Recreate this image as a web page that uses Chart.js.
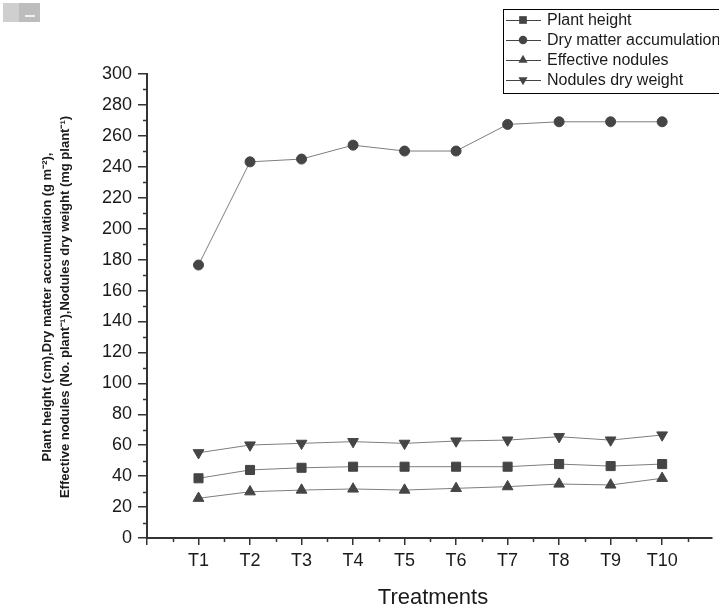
<!DOCTYPE html>
<html>
<head>
<meta charset="utf-8">
<script src="https://cdn.jsdelivr.net/npm/chart.js@4/dist/chart.umd.min.js"></script>
<style>
  body { margin: 0; background: #fff; }
  #wrap { position: relative; width: 719px; height: 612px; }
  #icon { position: absolute; left: 3px; top: 3px; width: 37px; height: 19px; background: #cfcfcf; }
  #icon span { position: absolute; left: 16px; top: 0; width: 21px; height: 19px; background: #bdbdbd; }
  #icon i { position: absolute; left: 22px; top: 12px; width: 10px; height: 2px; background: #f2f2f2; }
</style>
</head>
<body>
<div id="wrap">
  <canvas id="chart" width="719" height="612"></canvas>
  <div id="icon"><span></span><i></i></div>
</div>
<script>
// Data
const treatments = ['T1', 'T2', 'T3', 'T4', 'T5', 'T6', 'T7', 'T8', 'T9', 'T10'];
const plantHeight = [38.6, 44.0, 45.4, 46.1, 46.1, 46.1, 46.1, 47.8, 46.5, 47.8];
const dryMatter = [176.5, 243.2, 245.0, 254.0, 250.2, 250.2, 267.4, 269.1, 269.1, 269.1];
const effectiveNodules = [25.7, 29.9, 31.0, 31.7, 31.0, 32.1, 33.2, 34.9, 34.3, 38.6];
const nodulesDryWeight = [55.1, 60.1, 61.2, 62.3, 61.2, 62.7, 63.3, 65.5, 63.3, 66.6];
const yTicks = [0, 20, 40, 60, 80, 100, 120, 140, 160, 180, 200, 220, 240, 260, 280, 300];

const seriesNames = ['Plant height', 'Dry matter accumulation', 'Effective nodules', 'Nodules dry weight'];
const markerStyles = ['rect', 'circle', 'triangle', 'triangle'];
const markerRotations = [0, 0, 0, 180];
const markerRadius = [6.4, 5, 6.2, 6.2];

const axisColor = '#333333';
const markColor = '#454545';
const lineColor = '#7d7d7d';
const fontFamily = '"Liberation Sans", Arial, sans-serif';

function toPoints(values) {
    return values.map((v, i) => ({ x: i + 1, y: v }));
}

function makeDataset(name, values, idx) {
    return {
        label: name,
        data: toPoints(values),
        borderColor: lineColor,
        borderWidth: 1,
        backgroundColor: markColor,
        pointBackgroundColor: markColor,
        pointBorderColor: markColor,
        pointBorderWidth: 1,
        pointStyle: markerStyles[idx],
        rotation: markerRotations[idx],
        pointRadius: markerRadius[idx],
        pointHoverRadius: markerRadius[idx],
        tension: 0,
        fill: false
    };
}

// Small marker painter used by the legend
function drawMarker(ctx, style, rot, x, y, r) {
    ctx.beginPath();
    if (style === 'rect') {
        const s = Math.SQRT1_2 * r;
        ctx.rect(x - s, y - s, 2 * s, 2 * s);
    } else if (style === 'circle') {
        ctx.arc(x, y, r, 0, Math.PI * 2);
    } else {
        let a = rot * Math.PI / 180;
        ctx.moveTo(x + Math.sin(a) * r, y - Math.cos(a) * r);
        a += 2 * Math.PI / 3;
        ctx.lineTo(x + Math.sin(a) * r, y - Math.cos(a) * r);
        a += 2 * Math.PI / 3;
        ctx.lineTo(x + Math.sin(a) * r, y - Math.cos(a) * r);
        ctx.closePath();
    }
    ctx.fill();
}

// Minor ticks, axis titles and the boxed legend
const decorations = {
    id: 'decorations',
    afterDraw(chart) {
        const ctx = chart.ctx;
        const xs = chart.scales.x;
        const ys = chart.scales.y;
        const area = chart.chartArea;
        ctx.save();

        // minor ticks
        ctx.strokeStyle = axisColor;
        ctx.lineWidth = 1.5;
        ctx.beginPath();
        for (let v = 10; v < 300; v += 20) {
            const py = Math.round(ys.getPixelForValue(v)) + 0.5;
            ctx.moveTo(area.left - 4, py);
            ctx.lineTo(area.left, py);
        }
        for (let v = 0.5; v < xs.max; v += 1) {
            const px = Math.round(xs.getPixelForValue(v)) + 0.5;
            ctx.moveTo(px, area.bottom);
            ctx.lineTo(px, area.bottom + 4);
        }
        ctx.stroke();

        // x title
        ctx.fillStyle = '#1a1a1a';
        ctx.font = '22px ' + fontFamily;
        ctx.textAlign = 'center';
        ctx.textBaseline = 'middle';
        ctx.fillText('Treatments', 433, 598);

        // y title, two rotated lines
        ctx.save();
        ctx.translate(47, 307);
        ctx.rotate(-Math.PI / 2);
        ctx.font = 'bold 13px ' + fontFamily;
        ctx.fillText('Plant height (cm),Dry matter accumulation (g m\u207B\u00B2),', 0, 0);
        ctx.fillText('Effective nodules (No. plant\u207B\u00B9),Nodules dry weight (mg plant\u207B\u00B9)', 0, 18);
        ctx.restore();

        // legend
        ctx.strokeStyle = '#000';
        ctx.lineWidth = 1;
        ctx.strokeRect(503.5, 9.5, 230, 84);
        ctx.font = '16px ' + fontFamily;
        ctx.textAlign = 'left';
        seriesNames.forEach((name, i) => {
            const y = 20 + i * 20;
            ctx.strokeStyle = '#444';
            ctx.beginPath();
            ctx.moveTo(506, y + 0.5);
            ctx.lineTo(541, y + 0.5);
            ctx.stroke();
            ctx.fillStyle = markColor;
            drawMarker(ctx, markerStyles[i], markerRotations[i], 523, y, markerRadius[i] * 0.85);
            ctx.fillStyle = '#1a1a1a';
            ctx.fillText(name, 547, y + 1);
        });

        ctx.restore();
    }
};

const chart = new Chart(document.getElementById('chart').getContext('2d'), {
    type: 'line',
    data: {
        datasets: [
            makeDataset(seriesNames[0], plantHeight, 0),
            makeDataset(seriesNames[1], dryMatter, 1),
            makeDataset(seriesNames[2], effectiveNodules, 2),
            makeDataset(seriesNames[3], nodulesDryWeight, 3)
        ]
    },
    options: {
        responsive: false,
        animation: false,
        layout: { padding: { top: 74, left: 0, right: 0, bottom: 0 } },
        plugins: {
            legend: { display: false },
            tooltip: { enabled: false }
        },
        scales: {
            x: {
                type: 'linear',
                min: 0,
                max: 10.96,
                afterFit(scale) { scale.height = 74; },
                border: { display: true, color: axisColor, width: 2 },
                grid: { drawOnChartArea: false, drawTicks: true, tickLength: 7, color: axisColor, lineWidth: 1.5 },
                ticks: {
                    stepSize: 1,
                    includeBounds: false,
                    autoSkip: false,
                    maxRotation: 0,
                    padding: 5,
                    color: '#1a1a1a',
                    font: { family: fontFamily, size: 18 },
                    callback: v => (v >= 1 && v <= treatments.length && Number.isInteger(v)) ? treatments[v - 1] : ''
                }
            },
            y: {
                min: yTicks[0],
                max: yTicks[yTicks.length - 1],
                afterFit(scale) { scale.width = 147; },
                border: { display: true, color: axisColor, width: 2 },
                grid: { drawOnChartArea: false, drawTicks: true, tickLength: 9, color: axisColor, lineWidth: 1.5 },
                ticks: {
                    stepSize: 20,
                    padding: 6,
                    color: '#1a1a1a',
                    font: { family: fontFamily, size: 18 }
                }
            }
        }
    },
    plugins: [decorations]
});
</script>
</body>
</html>
